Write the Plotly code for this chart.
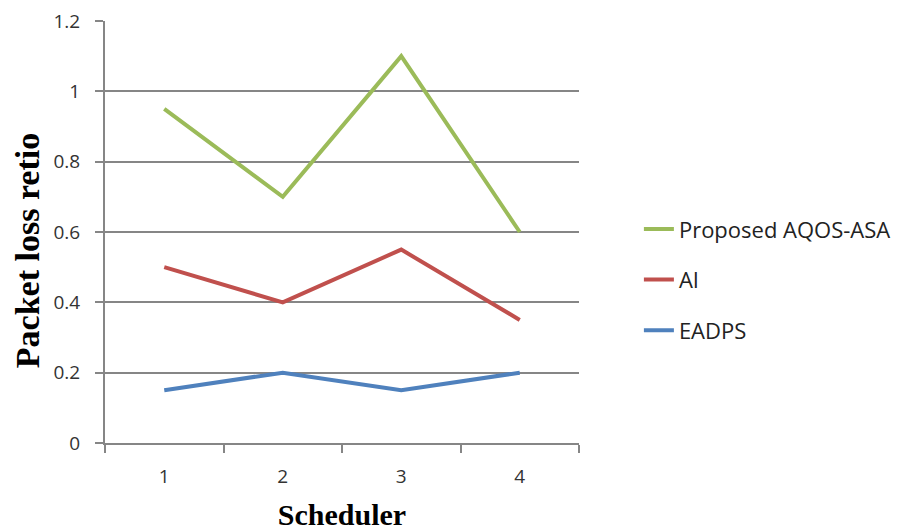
import plotly.graph_objects as go

schedulers = ["1", "2", "3", "4"]
proposed = [0.95, 0.70, 1.10, 0.60]
ai = [0.50, 0.40, 0.55, 0.35]
eadps = [0.15, 0.20, 0.15, 0.20]

series = [
    ("Proposed AQOS-ASA", proposed, "#9BBB59"),
    ("AI", ai, "#C0504D"),
    ("EADPS", eadps, "#4F81BD"),
]

fig = go.Figure()
for name, vals, col in series:
    fig.add_trace(go.Scatter(x=schedulers, y=vals, mode="lines", name=name,
                             legendgroup=name,
                             line=dict(color=col, width=4)))

tickfont = dict(family="Open Sans, Liberation Sans, sans-serif", size=19, color="#333333")
xtitlefont = dict(family="Liberation Serif, Times New Roman, serif", size=30, color="#000000")
ytitlefont = dict(family="Liberation Serif, Times New Roman, serif", size=34, color="#000000")

# the page body adds an 8px offset, so the figure is drawn 8px smaller
fig.update_layout(
    width=899, height=524,
    margin=dict(l=97, r=327, t=13, b=89),
    paper_bgcolor="white", plot_bgcolor="white",
    showlegend=True,
    legend=dict(x=1.124, xanchor="left", y=0.387, yanchor="middle",
                font=dict(family="Open Sans, Liberation Sans, sans-serif", size=22, color="#222222"),
                tracegroupgap=19, bgcolor="rgba(0,0,0,0)"),
    xaxis=dict(type="category", range=[-0.5, 3.5], showgrid=False, automargin=False,
               showline=True, linecolor="#868686", linewidth=2,
               ticks="outside", tickson="boundaries", ticklen=8, tickcolor="#868686", tickwidth=2,
               tickfont=tickfont, ticklabelstandoff=15,
               title=dict(text="<b>Scheduler</b>", font=xtitlefont, standoff=16)),
    yaxis=dict(range=[0, 1.2], dtick=0.2, showgrid=True, gridcolor="#868686", gridwidth=2,
               showline=True, linecolor="#868686", linewidth=2, zeroline=False, automargin=False,
               ticks="outside", ticklen=8, tickcolor="#868686", tickwidth=2,
               tickfont=tickfont, ticklabelstandoff=11, ticklabeloverflow="allow"),
    annotations=[dict(text="<b>Packet loss retio</b>", textangle=-90, showarrow=False,
                      xref="paper", yref="paper", x=-0.162, y=0.455,
                      xanchor="center", yanchor="middle", font=ytitlefont)],
)

fig.write_html("out.html")
